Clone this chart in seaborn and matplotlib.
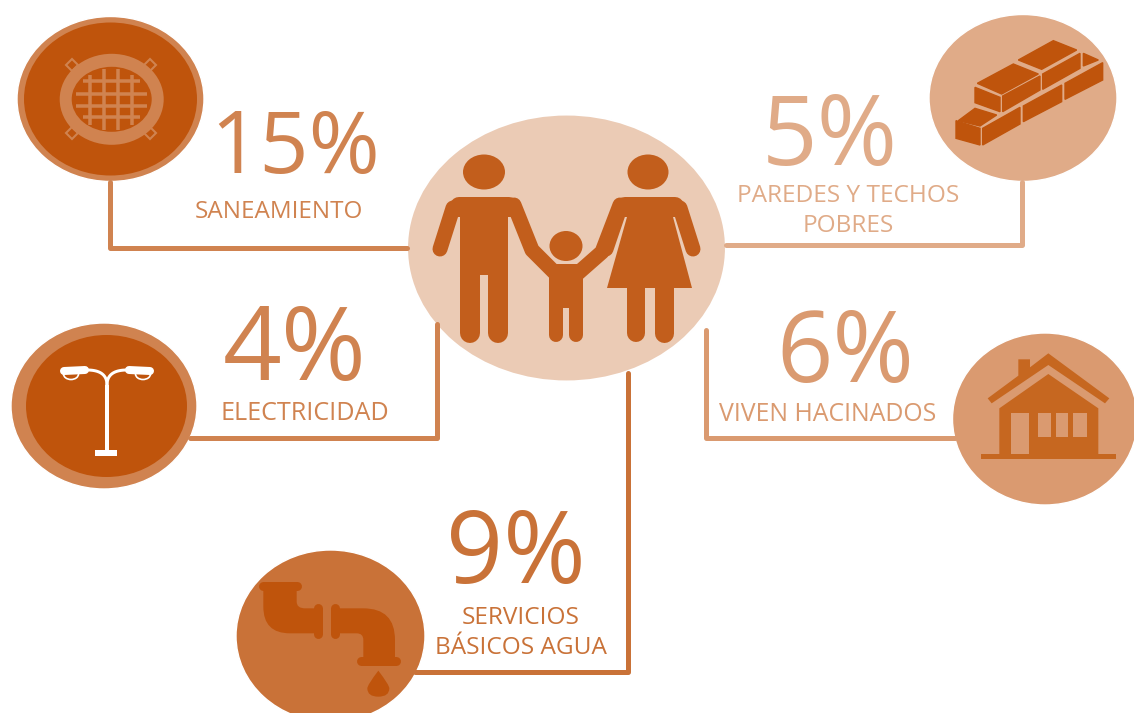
import numpy as np
import pandas as pd
import matplotlib
matplotlib.use("Agg")
import matplotlib.pyplot as plt
import seaborn as sns
from matplotlib.patches import Ellipse, Polygon, PathPatch
from matplotlib.path import Path

# Values
categories = [["SANEAMIENTO"], ["PAREDES Y TECHOS", "POBRES"], ["ELECTRICIDAD"], ["VIVEN HACINADOS"], ["SERVICIOS", "BÁSICOS AGUA"]]
percentages = [15, 5, 4, 6, 9]

# Layout, in pixels of the reference
W, H = 1134, 713
PX = 0.72
colors = ["#D08350", "#E0AB88", "#D08350", "#DA9A70", "#C97238"]
number_x = [295, 830, 295, 845, 516]
number_y = [173, 165, 380, 382, 583]
number_size = [62, 70, 74, 71, 72]
label_x = [279, 848, 305, 828, 521]
label_y = [218, 202, 420, 421, 624]
label_gap = 29.5
label_size = [17.5, 17.6, 18.1, 17.9, 17.6]
bubble_x = [110.5, 1023, 104, 1045, 330.5]
bubble_y = [99, 98, 406, 419, 636]
bubble_w = [187, 188, 186, 185, 189]
bubble_h = [165, 167, 166, 172, 172]
link_x = [[110, 110, 407], [1022, 1022, 726], [190, 437, 437], [955, 706, 706], [415, 628, 628]]
link_y = [[182, 248, 248], [182, 245, 245], [438, 438, 324], [438, 438, 330], [672, 672, 373]]

ORANGE = "#BF540C"
FAMILY = "#C25E1C"
HOUSE = "#C66720"
HUB = "#EBCBB5"

sns.set_theme(style="white")
plt.rcParams["font.family"] = ["Open Sans", "DejaVu Sans"]

fig, ax = plt.subplots(figsize=(W / 100, H / 100), dpi=100)
fig.subplots_adjust(0, 0, 1, 1)
ax.set_xlim(0, W)
ax.set_ylim(H, 0)
ax.axis("off")


def poly(points, color, ox=0, oy=0, k=1.0, z=5, edge=0):
    pts = [(x * k + ox, y * k + oy) for x, y in points]
    ax.add_patch(Polygon(pts, closed=True, fc=color, ec=color if edge else "none", lw=edge, zorder=z))


def stroke(xs, ys, color, width, z=5, cap="round"):
    ax.plot(xs, ys, color=color, lw=width * PX, solid_capstyle=cap, solid_joinstyle="round", zorder=z)


def curve(verts, codes, color, ox=0, oy=0, k=1 / 3, z=5):
    pts = [(x * k + ox, y * k + oy) for x, y in verts]
    ax.add_patch(PathPatch(Path(pts, codes), fc=color, ec="none", zorder=z))


# Connectors
for i in range(5):
    link = pd.DataFrame({"x": link_x[i], "y": link_y[i]})
    sns.lineplot(data=link, x="x", y="y", sort=False, estimator=None, color=colors[i], lw=5 * PX, ax=ax,
                 zorder=3.5, legend=False)
ax.set_xlabel("")
ax.set_ylabel("")

# Bubbles
ax.add_patch(Ellipse((566.5, 248), 319, 267, fc=HUB, ec="white", lw=1.5, zorder=3))
for i in range(5):
    ax.add_patch(Ellipse((bubble_x[i], bubble_y[i]), bubble_w[i], bubble_h[i], fc=colors[i], ec="white", lw=1, zorder=3))
ax.add_patch(Ellipse((110.5, 99), 173, 153, fc=ORANGE, ec="none", zorder=4))
ax.add_patch(Ellipse((106.5, 406), 161, 142, fc=ORANGE, ec="none", zorder=4))

# Numbers and labels
for i in range(5):
    ax.text(number_x[i], number_y[i], f"{percentages[i]}%", color=colors[i], fontsize=number_size[i],
            ha="center", va="baseline", zorder=6)
    for j, line in enumerate(categories[i]):
        ax.text(label_x[i], label_y[i] + j * label_gap, line, color=colors[i], fontsize=label_size[i],
                ha="center", va="baseline", zorder=6)

# Family icon
ax.add_patch(Ellipse((484, 172), 42, 35, fc=FAMILY, ec="none", zorder=5))
ax.add_patch(Ellipse((648, 172), 41, 35, fc=FAMILY, ec="none", zorder=5))
ax.add_patch(Ellipse((566, 246), 33, 30, fc=FAMILY, ec="none", zorder=5))
# man
poly([(460, 200), (508, 200), (508, 275), (460, 275)], FAMILY)
stroke([459, 509], [206, 206], FAMILY, 18)
poly([(449, 208), (519, 208), (515, 217), (453, 217)], FAMILY)
stroke([470, 470], [270, 333], FAMILY, 20)
stroke([498, 498], [270, 333], FAMILY, 20)
stroke([453, 440], [208, 249], FAMILY, 15)
stroke([514, 532, 556], [205, 250, 274], FAMILY, 15)
# child
poly([(549, 264), (583, 264), (583, 308), (549, 308)], FAMILY)
stroke([556, 556], [300, 335], FAMILY, 14)
stroke([576, 576], [300, 335], FAMILY, 14)
poly([(549, 290), (583, 290), (583, 307), (549, 307)], FAMILY)
stroke([577, 602, 620], [274, 252, 205], FAMILY, 15)
# woman
poly([(627, 200), (673, 200), (673, 217), (692, 288), (607, 288), (627, 217)], FAMILY)
stroke([625, 675], [206, 206], FAMILY, 18)
poly([(613, 208), (687, 208), (682, 217), (618, 217)], FAMILY)
stroke([620, 606], [208, 249], FAMILY, 15)
stroke([680, 693], [208, 249], FAMILY, 15)
stroke([636, 636], [285, 333], FAMILY, 18)
stroke([664, 664], [285, 333], FAMILY, 19)

# Manhole icon
RING = colors[0]
ax.add_patch(Ellipse((111.7, 99.3), 104, 91, fc=RING, ec="none", zorder=5))
ax.add_patch(Ellipse((111.7, 99.3), 80, 65, fc=ORANGE, ec="none", zorder=5))
for tx, ty in [(72, 65), (150, 65), (72, 133), (150, 133)]:
    ax.plot([tx], [ty], marker="D", ms=6, mfc=ORANGE, mec=RING, mew=1.5, zorder=4.5)
for vx, y0, y1 in [(90, 75, 125), (104, 69, 130), (118, 69, 130), (132, 75, 125)]:
    stroke([vx, vx], [y0, y1], RING, 3.5, z=6, cap="butt")
for hy, x0, x1 in [(81, 83, 140), (94, 76, 147), (106, 76, 147), (117, 83, 140)]:
    stroke([x0, x1], [hy, hy], RING, 3.5, z=6, cap="butt")

# Street lamp icon
stroke([107, 107], [385, 453], "white", 4, cap="butt")
stroke([95, 117], [453, 453], "white", 6, cap="butt")
for sign in [-1, 1]:
    t = np.linspace(0, 1, 20)
    cx = 107 + sign * 20 * t ** 2
    cy = (1 - t) ** 2 * 385 + (1 - (1 - t) ** 2) * 370
    stroke(cx, cy, "white", 3)
    stroke([107 + sign * 22, 107 + sign * 43], [370, 371], "white", 8)
    ax.add_patch(Ellipse((107 + sign * 36, 374), 15, 11, fc=ORANGE, ec="white", lw=1.2, zorder=4.8))

# Bricks icon
bricks = [
    [(865, 180), (970, 122), (1040, 150), (935, 208)],
    [(742, 250), (850, 192), (925, 222), (815, 282)],
    [(735, 262), (810, 292), (810, 335), (735, 308)],
    [(818, 288), (930, 228), (930, 270), (818, 335)],
    [(938, 222), (1050, 160), (1050, 205), (938, 268)],
    [(1060, 160), (1105, 180), (1060, 198)],
    [(685, 362), (735, 325), (800, 345), (750, 378)],
    [(678, 362), (750, 385), (750, 435), (678, 415)],
    [(758, 385), (870, 322), (870, 372), (758, 435)],
    [(880, 318), (995, 255), (995, 305), (880, 365)],
    [(1005, 250), (1118, 188), (1118, 240), (1005, 298)],
]
for b in bricks:
    poly(b, ORANGE, 730, 0, 1 / 3, edge=1.0)

# House icon
poly([(928, 440), (928, 295), (1075, 192), (1225, 295), (1225, 440)], HOUSE, 690, 310, 1 / 3)
poly([(893, 265), (985, 197), (985, 148), (1020, 148), (1020, 172), (1075, 130), (1258, 265), (1245, 280),
      (1075, 165), (905, 280)], HOUSE, 690, 310, 1 / 3)
poly([(962, 310), (1018, 310), (1018, 435), (962, 435)], colors[3], 690, 310, 1 / 3, z=6)
for wx0, wx1 in [(1043, 1082), (1097, 1135), (1150, 1190)]:
    poly([(wx0, 310), (wx1, 310), (wx1, 380), (wx0, 380)], colors[3], 690, 310, 1 / 3, z=6)
poly([(873, 432), (1278, 432), (1278, 446), (873, 446)], HOUSE, 690, 310, 1 / 3, z=6)

# Pipe icon
M, L, C, Z = Path.MOVETO, Path.LINETO, Path.CURVE3, Path.CLOSEPOLY
ox, oy = 220, 480
curve([(130, 325), (230, 325), (230, 365), (230, 385), (255, 385), (290, 385), (290, 460), (210, 460),
       (130, 460), (130, 380), (130, 325)],
      [M, L, L, C, C, L, L, L, C, C, Z], ORANGE, ox, oy)
curve([(350, 385), (430, 385), (525, 385), (525, 480), (525, 540), (430, 540), (430, 480), (430, 460), (410, 460),
       (350, 460), (350, 385)],
      [M, L, C, C, L, L, L, C, C, L, Z], ORANGE, ox, oy)
for x0, x1, y0, y1 in [(128, 232, 318, 318), (295, 295, 385, 462), (344, 344, 385, 462), (422, 528, 544, 544)]:
    stroke([x0 / 3 + ox, x1 / 3 + ox], [y0 / 3 + oy, y1 / 3 + oy], ORANGE, 9)
curve([(475, 572), (442, 615), (442, 625), (442, 650), (475, 650), (508, 650), (508, 625), (508, 615), (475, 572), (475, 572)],
      [M, C, C, C, C, C, C, C, C, Z], ORANGE, ox, oy)

fig.savefig("out.png", dpi=100, facecolor="white")
plt.close(fig)
